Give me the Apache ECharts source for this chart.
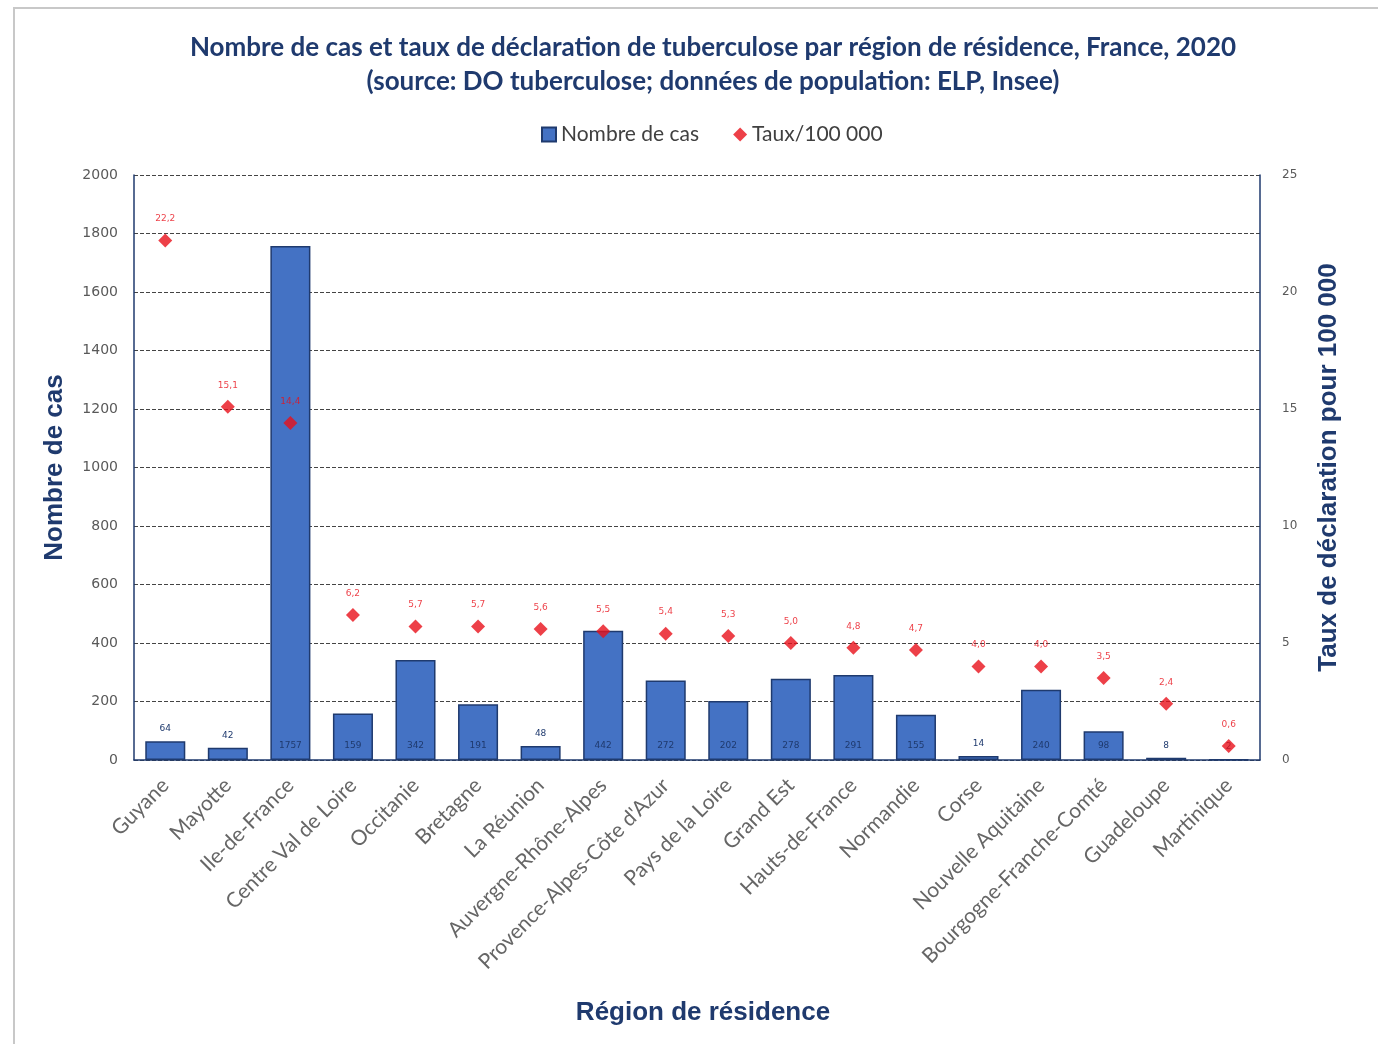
<!DOCTYPE html>
<html><head><meta charset="utf-8">
<script src="https://cdn.jsdelivr.net/npm/echarts@6/dist/echarts.min.js"></script>
<style>html,body{margin:0;padding:0;background:#fff}#c{width:1378px;height:1044px}</style>
</head><body><div id="c"></div>
<script>
const categories = ["Guyane","Mayotte","Ile-de-France","Centre Val de Loire","Occitanie","Bretagne","La Réunion","Auvergne-Rhône-Alpes","Provence-Alpes-Côte d'Azur","Pays de la Loire","Grand Est","Hauts-de-France","Normandie","Corse","Nouvelle Aquitaine","Bourgogne-Franche-Comté","Guadeloupe","Martinique"];
const cases = [64,42,1757,159,342,191,48,442,272,202,278,291,155,14,240,98,8,2];
const rates = [22.2,15.1,14.4,6.2,5.7,5.7,5.6,5.5,5.4,5.3,5.0,4.8,4.7,4.0,4.0,3.5,2.4,0.6];
const leftTicks = [0,2000,200];
const rightTicks = [0,25,5];

const chart = echarts.init(document.getElementById('c'));
const fmt = v => v.toFixed(1).replace('.', ',');
chart.setOption({
  animation:false,
  textStyle:{fontFamily:'DejaVu Sans'},
  graphic:[{type:'rect',shape:{x:14,y:8,width:1400,height:1100},style:{fill:'none',stroke:'#c8c8c8',lineWidth:2},silent:true}],
  title:{text:'Nombre de cas et taux de déclaration de tuberculose par région de résidence, France, 2020\n(source: DO tuberculose; données de population: ELP, Insee)',
    left:708,textAlign:'center',top:26,
    textStyle:{fontFamily:'Lato',fontWeight:'bold',fontSize:26,color:'#1f3a6e',lineHeight:34}},
  legend:{top:119,left:536,itemGap:34,itemWidth:14,itemHeight:14,
    textStyle:{fontFamily:'Lato',fontSize:21,color:'#404040'},
    data:[{name:'Nombre de cas',icon:'rect'},{name:'Taux/100 000',icon:'diamond'}]},
  grid:{left:134,right:118,top:175,bottom:284},
  xAxis:{type:'category',data:categories,
    axisLine:{lineStyle:{color:'#1f3a6e',width:1.5}},axisTick:{show:false},
    axisLabel:{rotate:45,interval:0,fontFamily:'Lato',fontSize:21,color:'#666',margin:22},
    name:'Région de résidence',nameLocation:'middle',nameGap:240,
    nameTextStyle:{fontFamily:'Liberation Sans',fontWeight:'bold',fontSize:26,color:'#1f3a6e',padding:[0,0,0,12]}},
  yAxis:[{type:'value',min:leftTicks[0],max:leftTicks[1],interval:leftTicks[2],
    axisLine:{show:true,lineStyle:{color:'#1f3a6e',width:1.5}},axisTick:{show:false},
    axisLabel:{fontFamily:'Verdana, DejaVu Sans',fontSize:14,color:'#595959',margin:16,formatter:v=>String(v)},
    splitLine:{lineStyle:{color:'#444',type:[4,2],width:1.2}},
    name:'Nombre de cas',nameLocation:'middle',nameGap:66,
    nameTextStyle:{fontFamily:'Liberation Sans',fontWeight:'bold',fontSize:26,color:'#1f3a6e'}},
   {type:'value',min:rightTicks[0],max:rightTicks[1],interval:rightTicks[2],position:'right',
    axisLine:{show:true,lineStyle:{color:'#1f3a6e',width:1.5}},axisTick:{show:false},
    axisLabel:{fontFamily:'Verdana, DejaVu Sans',fontSize:12,color:'#595959',margin:22},
    splitLine:{show:false},
    name:'Taux de déclaration pour 100 000',nameLocation:'middle',nameGap:56,nameRotate:90,
    nameTextStyle:{fontFamily:'Liberation Sans',fontWeight:'bold',fontSize:26,color:'#1f3a6e'}}],
  series:[
    {name:'Nombre de cas',type:'bar',yAxisIndex:0,barWidth:'64%',
     itemStyle:{color:'#4472c4',borderColor:'#1f3a6e',borderWidth:1.5},
     data:cases.map(v=>({value:v,label:{position: v<70?'top':'insideBottom',distance: v<70?8:10}})),
     label:{show:true,fontSize:9,color:'#1f3a6e',fontFamily:'DejaVu Sans'}},
    {name:'Taux/100 000',type:'scatter',yAxisIndex:1,symbol:'diamond',symbolSize:14,
     itemStyle:{color:'#e8101a'},data:rates,
     label:{show:true,position:'top',distance:10,fontSize:9,color:'#e8101a',formatter:p=>fmt(p.value)}}
  ]
});
</script></body></html>
